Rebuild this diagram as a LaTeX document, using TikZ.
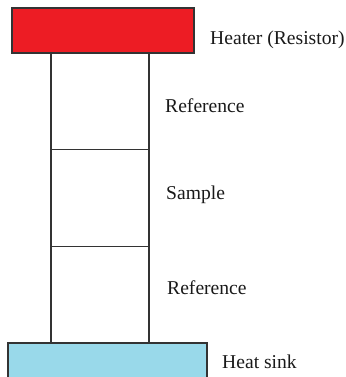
\documentclass[tikz,border=0pt]{standalone}
\usepackage{fontspec}
\setmainfont{Liberation Serif}
\begin{document}
\begin{tikzpicture}[x=1pt,y=1pt,
  block/.style={draw=black!80, line width=1.5pt, inner sep=0pt, outer sep=0pt},
  cell/.style={block, fill=white, minimum width=98pt, minimum height=96.7pt},
  lbl/.style={anchor=base west, inner sep=0pt, font=\fontsize{19.6}{22}\selectfont, text=black!90}]
\definecolor{heaterred}{HTML}{ED1C24}
\definecolor{sinkblue}{HTML}{99D9EA}
\useasboundingbox (0,0) rectangle (345,377);
\begin{scope}
\clip (0,0) rectangle (345,377);
% heat sink (runs past the lower edge)
\node[block, fill=sinkblue, minimum width=199pt, minimum height=50pt, anchor=north west] (sink) at (8,34) {};
% reference / sample / reference stack
\node[cell, anchor=south west] (ref2) at (51,34) {};
\node[cell, anchor=south] (sample) at (ref2.north) {};
\node[cell, anchor=south] (ref1) at (sample.north) {};
% heater on top
\node[block, fill=heaterred, minimum width=182pt, minimum height=45pt, anchor=north west] (heater) at (12,369) {};
\end{scope}
% labels
\node[lbl] (theater) at (210,332) {Heater (Resistor)};
\node[lbl] (tref1) at (165,264) {Reference};
\node[lbl] (tsample) at (166,177) {Sample};
\node[lbl] (tref2) at (167,82) {Reference};
\node[lbl] (tsink) at (222,9) {Heat sink};
\end{tikzpicture}
\end{document}
